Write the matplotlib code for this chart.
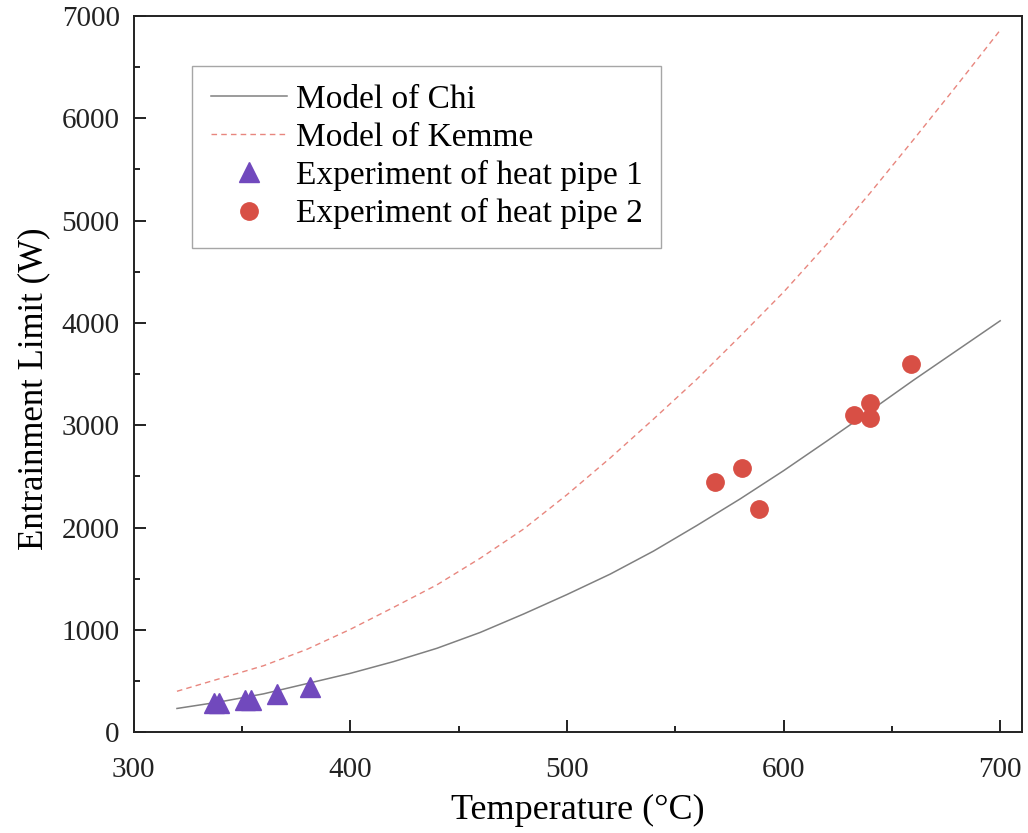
import matplotlib
matplotlib.use('Agg')
import matplotlib.pyplot as plt
from matplotlib.ticker import MultipleLocator

plt.rcParams['font.family'] = ['Liberation Serif', 'DejaVu Serif']

# model curves (temperature in °C, entrainment limit in W)
t_model = [320, 340, 360, 380, 400, 420, 440, 460, 480, 500, 520, 540,
           560, 580, 600, 620, 640, 660, 680, 700]
q_chi = [232, 297, 375, 475, 575, 690, 820, 975, 1155, 1345, 1545, 1770,
         2020, 2280, 2555, 2845, 3140, 3440, 3730, 4020]
q_kemme = [400, 525, 650, 810, 1005, 1220, 1440, 1700, 1985, 2320, 2680, 3060,
           3450, 3870, 4300, 4770, 5270, 5790, 6320, 6860]

# measurements
t_hp1 = [337.3, 339.3, 351.5, 354.0, 366.0, 381.6]
q_hp1 = [283, 283, 313, 313, 378, 437]

t_hp2 = [568.2, 580.8, 588.5, 632.3, 639.9, 639.9, 658.7]
q_hp2 = [2447, 2584, 2180, 3099, 3219, 3066, 3594]

fig = plt.figure(figsize=(10.28, 8.33), dpi=100)
ax = fig.add_axes([0.130, 0.121, 0.864, 0.860])

ax.plot(t_model, q_chi, color='#808080', lw=1.1, label='Model of Chi')
ax.plot(t_model, q_kemme, color='#e8867e', lw=1.0, ls=(0, (4, 3)),
        label='Model of Kemme')
ax.plot(t_hp1, q_hp1, ls='none', marker='^', ms=14, color='#7149bd',
        label='Experiment of heat pipe 1')
ax.plot(t_hp2, q_hp2, ls='none', marker='o', ms=12.5, color='#d84f45',
        label='Experiment of heat pipe 2')

ax.set_xlim(300, 710)
ax.set_ylim(0, 7000)
ax.xaxis.set_major_locator(MultipleLocator(100))
ax.xaxis.set_minor_locator(MultipleLocator(50))
ax.yaxis.set_major_locator(MultipleLocator(1000))
ax.yaxis.set_minor_locator(MultipleLocator(500))
ax.tick_params(which='both', direction='in', width=1.4, labelsize=21,
               colors='#222222')
ax.tick_params(which='major', length=8.5)
ax.tick_params(which='minor', length=4.5)
ax.tick_params(axis='x', pad=18)
ax.tick_params(axis='y', pad=10)
for s in ax.spines.values():
    s.set_linewidth(1.4)
    s.set_color('#222222')

ax.set_xlabel('Temperature (°C)', fontsize=26, labelpad=8)
ax.set_ylabel('Entrainment Limit (W)', fontsize=25, labelpad=8)
ax.yaxis.label.set_y(0.48)

leg = ax.legend(loc='upper left', bbox_to_anchor=(0.066, 0.930),
                borderaxespad=0, fontsize=24, frameon=True, fancybox=False,
                edgecolor='#909090', handlelength=2.3, handletextpad=0.25,
                labelspacing=0.22, borderpad=0.55)
leg.get_frame().set_linewidth(1.0)

fig.savefig('out.png', dpi=100)
